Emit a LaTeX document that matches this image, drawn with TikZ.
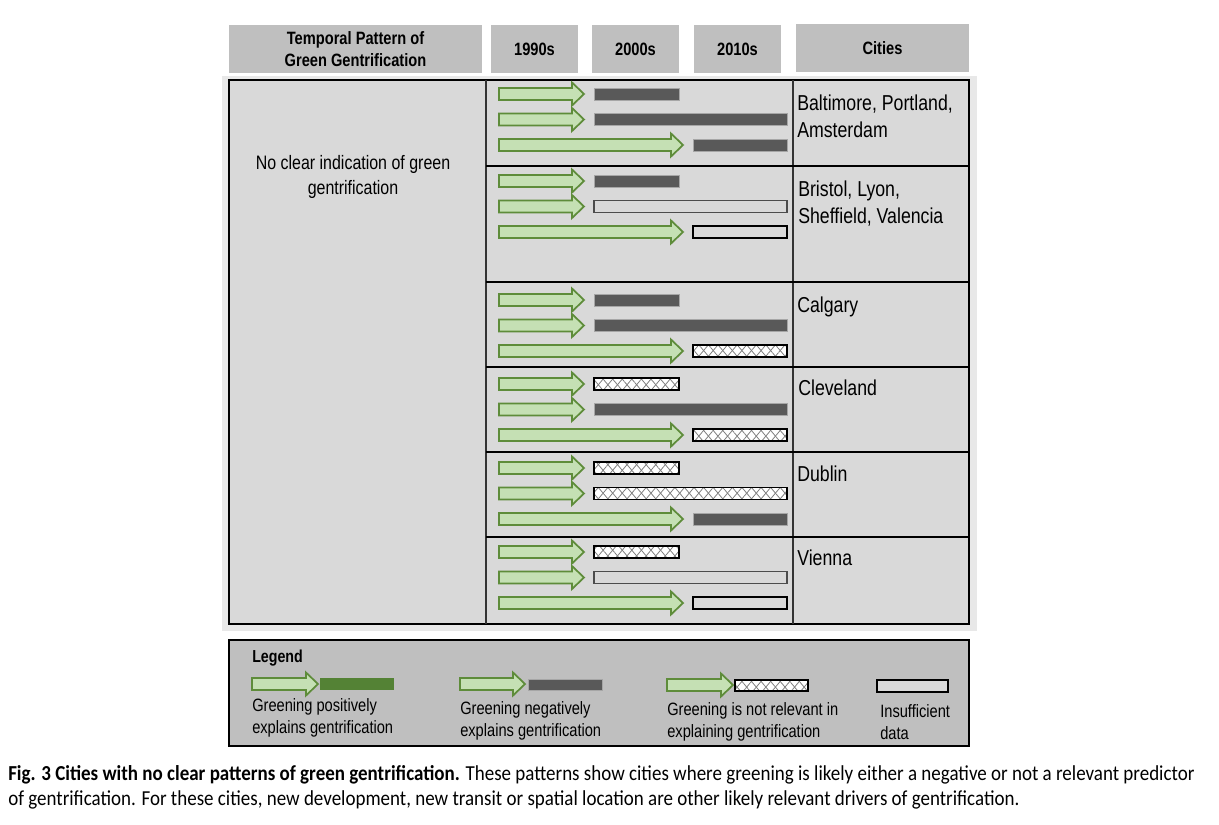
\documentclass[tikz,border=0pt]{standalone}
\usepackage{fontspec}
\setmainfont{Liberation Sans}[FakeStretch=0.82]
\newfontfamily\capfont{Carlito}[FakeStretch=0.89]
\usetikzlibrary{patterns.meta}
\definecolor{hdrgray}{HTML}{BFBFBF}
\definecolor{panelgray}{HTML}{D9D9D9}
\definecolor{stripgray}{HTML}{E8E8E8}
\definecolor{neggray}{HTML}{595959}
\definecolor{arrowfill}{HTML}{C5E0B4}
\definecolor{arrowline}{HTML}{5E8C3A}
\definecolor{posgreen}{HTML}{548235}
\tikzset{
  hdr/.style={fill=hdrgray, inner sep=0pt, align=center, font=\bfseries\fontsize{13.4}{16.5}\selectfont},
  city/.style={anchor=north west, inner sep=0pt, align=left, font=\fontsize{16.2}{20.25}\selectfont},
  legtext/.style={anchor=north west, inner sep=0pt, align=left, font=\fontsize{13.4}{16.5}\selectfont},
  grarrow/.style={fill=arrowfill, draw=arrowline, line width=1.3pt, line join=miter},
  negbar/.style={fill=neggray, draw=gray!70, line width=0.6pt},
  posbar/.style={fill=posgreen, draw=none},
  nrbar/.style={draw=black, line width=1.3pt,
    preaction={fill=white},
    preaction={pattern={Lines[angle=50,distance=5.5pt,line width=0.6pt]}, pattern color=gray},
    preaction={pattern={Lines[angle=-50,distance=5.5pt,line width=0.6pt]}, pattern color=gray}},
  nabar/.style={fill=panelgray, draw=gray!60!black, line width=1.1pt},
  nabarb/.style={fill=panelgray, draw=black, line width=1.3pt}
}
% green block arrow: tail x, tip x, centre y
\newcommand{\grnarrow}[3]{%
  \draw[grarrow] (#1,#3-6) -- (#2-12,#3-6) -- (#2-12,#3-11.5) -- (#2,#3)
    -- (#2-12,#3+11.5) -- (#2-12,#3+6) -- (#1,#3+6) -- cycle;}
\begin{document}
\begin{tikzpicture}[x=0.75pt, y=-0.75pt]
  \useasboundingbox (0,0) rectangle (1219,824);
  % header
  \node[hdr, minimum width=253*0.75pt, minimum height=48*0.75pt] (hpat) at (355.5,49) {Temporal Pattern of\\Green Gentrification};
  \node[hdr, minimum width=87*0.75pt, minimum height=48*0.75pt] (h90) at (534.5,49) {1990s};
  \node[hdr, minimum width=87*0.75pt, minimum height=48*0.75pt] (h00) at (635.5,49) {2000s};
  \node[hdr, minimum width=87*0.75pt, minimum height=48*0.75pt] (h10) at (737.5,49) {2010s};
  \node[hdr, minimum width=173*0.75pt, minimum height=48*0.75pt] (hcity) at (882.5,48) {Cities};
  % panel
  \fill[stripgray] (222,76) rectangle (977,631);
  \draw[fill=panelgray, line width=1.5pt] (229,80) rectangle (969,624);
  \draw[gray!40!black, line width=0.8pt] (486,80) -- (486,624);
  \draw[gray!40!black, line width=0.8pt] (793,80) -- (793,624);
  \foreach \ys in {166,282,367,452,537}
    \draw[black, line width=0.8pt] (486,\ys) -- (969,\ys);
  \node[inner sep=0pt, align=center, font=\fontsize{14.6}{18.75}\selectfont] (noclear) at (353,177)
    {No clear indication of green\\gentrification};
  % rows: first arrow y / bar styles
  \foreach \ya/\sa/\sb/\sc in {94/negbar/negbar/negbar, 181/negbar/nabar/nabarb,
      300/negbar/negbar/nrbar, 384/nrbar/negbar/nrbar, 468/nrbar/nrbar/negbar,
      552/nrbar/nabar/nabarb} {
    \grnarrow{499}{584}{\ya}
    \grnarrow{499}{584}{\ya+25.5}
    \grnarrow{499}{683}{\ya+51}
    \draw[\sa] (594,\ya-6) rectangle (679,\ya+6);
    \draw[\sb] (594,\ya+19.5) rectangle (787,\ya+31.5);
    \draw[\sc] (693,\ya+45) rectangle (787,\ya+57);
  }
  \node[city] (cbal) at (797,95) {Baltimore, Portland,\\Amsterdam};
  \node[city] (cbri) at (798,181) {Bristol, Lyon,\\Sheffield, Valencia};
  \node[city] (ccal) at (797,297) {Calgary};
  \node[city] (ccle) at (798,380) {Cleveland};
  \node[city] (cdub) at (797,466) {Dublin};
  \node[city] (cvie) at (797,550) {Vienna};
  % legend
  \draw[fill=hdrgray, line width=1.5pt] (229,640) rectangle (969,746);
  \node[anchor=west, inner sep=0pt, font=\bfseries\fontsize{13}{16}\selectfont] (leg) at (252,658) {Legend};
  \grnarrow{252}{318}{684}
  \fill[posgreen] (320,678) rectangle (394,690);
  \grnarrow{460}{525}{684}
  \draw[negbar] (528,679) rectangle (602,690);
  \grnarrow{667}{733}{685}
  \draw[nrbar] (735,680) rectangle (808,691);
  \draw[nabarb] (877,680) rectangle (948,692);
  \node[legtext] (lpos) at (252,698) {Greening positively\\explains gentrification};
  \node[legtext] (lneg) at (460,701) {Greening negatively\\explains gentrification};
  \node[legtext] (lnr) at (667,702) {Greening is not relevant in\\explaining gentrification};
  \node[legtext] (lna) at (880,704) {Insufficient\\data};
  % caption
  \node[anchor=west, inner sep=0pt, font=\capfont\fontsize{16}{19}\selectfont] (cap1) at (8,775)
    {\textbf{Fig. 3 Cities with no clear patterns of green gentrification.} These patterns show cities where greening is likely either a negative or not a relevant predictor};
  \node[anchor=west, inner sep=0pt, font=\capfont\fontsize{16}{19}\selectfont] (cap2) at (8,800)
    {of gentrification. For these cities, new development, new transit or spatial location are other likely relevant drivers of gentrification.};
\end{tikzpicture}
\end{document}
